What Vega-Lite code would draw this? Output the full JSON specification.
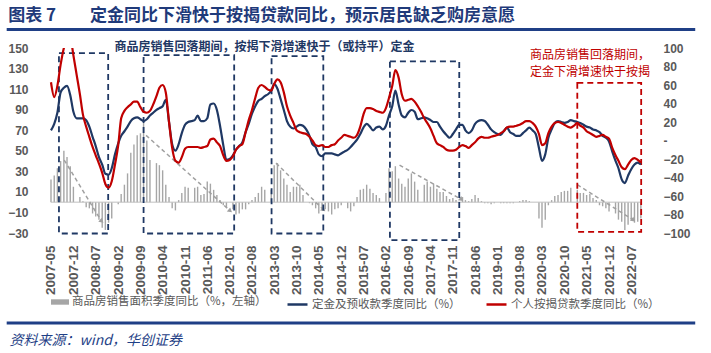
{
  "$schema": "https://vega.github.io/schema/vega-lite/v6.json",
  "width": 607,
  "height": 185,
  "autosize": {"type": "pad"},
  "padding": {"left": 5, "top": 6, "right": 5, "bottom": 4},
  "background": "white",
  "config": {
    "view": {"stroke": null},
    "font": "Noto Sans CJK SC",
    "axis": {"labelFont": "Liberation Sans", "labelFontWeight": "bold", "labelColor": "#595959"}
  },
  "title": {"text": "图表 7\u3000\u3000定金同比下滑快于按揭贷款同比，预示居民缺乏购房意愿", "anchor": "start", "frame": "bounds", "dx": 3, "offset": 3, "font": "Noto Sans CJK SC", "fontSize": 17, "fontWeight": "bold", "color": "#1f3a7a"},
  "datasets": {
    "main": [
      {"d":"2007-05-01","a":22,"p":11,"m":63},{"d":"2007-06-01","a":26,"p":18,"m":47},{"d":"2007-07-01","a":33,"p":30,"m":59},{"d":"2007-08-01","a":40,"p":52,"m":82},{"d":"2007-09-01","a":50,"p":57,"m":100},{"d":"2007-10-01","a":44,"p":59,"m":110},{"d":"2007-11-01","a":35,"p":49,"m":111},{"d":"2007-12-01","a":15,"p":31,"m":92},
      {"d":"2008-01-01","a":null,"p":24,"m":71},{"d":"2008-02-01","a":5,"p":24,"m":50},{"d":"2008-03-01","a":1,"p":24,"m":28},{"d":"2008-04-01","a":-5,"p":22,"m":15},{"d":"2008-05-01","a":-6,"p":15,"m":4},{"d":"2008-06-01","a":-11,"p":4,"m":-7},{"d":"2008-07-01","a":-14,"p":-6,"m":-16},{"d":"2008-08-01","a":-17,"p":-18,"m":-25},{"d":"2008-09-01","a":-25,"p":-26,"m":-35},{"d":"2008-10-01","a":-27,"p":-36,"m":-47},{"d":"2008-11-01","a":-20,"p":-37,"m":-51},{"d":"2008-12-01","a":-16,"p":-30,"m":-44},
      {"d":"2009-01-01","a":null,"p":-15,"m":-26},{"d":"2009-02-01","a":-2,"p":-3,"m":-5},{"d":"2009-03-01","a":8,"p":5,"m":24},{"d":"2009-04-01","a":17,"p":10,"m":32},{"d":"2009-05-01","a":28,"p":15,"m":36},{"d":"2009-06-01","a":48,"p":21,"m":39},{"d":"2009-07-01","a":56,"p":24,"m":42},{"d":"2009-08-01","a":65,"p":25,"m":42},{"d":"2009-09-01","a":67,"p":23,"m":36},{"d":"2009-10-01","a":77,"p":21,"m":31},{"d":"2009-11-01","a":60,"p":23,"m":30},{"d":"2009-12-01","a":41,"p":27,"m":32},
      {"d":"2010-01-01","a":null,"p":30,"m":39},{"d":"2010-02-01","a":38,"p":33,"m":48},{"d":"2010-03-01","a":36,"p":35,"m":57},{"d":"2010-04-01","a":31,"p":37,"m":60},{"d":"2010-05-01","a":17,"p":44,"m":52},{"d":"2010-06-01","a":5,"p":20,"m":20},{"d":"2010-07-01","a":-6,"p":-4,"m":-8},{"d":"2010-08-01","a":-8,"p":-11,"m":-22},{"d":"2010-09-01","a":2,"p":-4,"m":-24},{"d":"2010-10-01","a":9,"p":8,"m":-18},{"d":"2010-11-01","a":15,"p":17,"m":-9},{"d":"2010-12-01","a":14,"p":20,"m":-7},
      {"d":"2011-01-01","a":null,"p":21,"m":-7},{"d":"2011-02-01","a":14,"p":22,"m":-7},{"d":"2011-03-01","a":15,"p":27,"m":-7},{"d":"2011-04-01","a":7,"p":21,"m":-8},{"d":"2011-05-01","a":8,"p":21,"m":-7},{"d":"2011-06-01","a":20,"p":24,"m":-6},{"d":"2011-07-01","a":18,"p":39,"m":1},{"d":"2011-08-01","a":12,"p":40,"m":2},{"d":"2011-09-01","a":7,"p":33,"m":-2},{"d":"2011-10-01","a":2,"p":16,"m":-6},{"d":"2011-11-01","a":-3,"p":-5,"m":-16},{"d":"2011-12-01","a":-5,"p":-21,"m":-22},
      {"d":"2012-01-01","a":null,"p":-20,"m":-21},{"d":"2012-02-01","a":-7,"p":-16,"m":-17},{"d":"2012-03-01","a":-12,"p":-10,"m":-10},{"d":"2012-04-01","a":-11,"p":-6,"m":-6},{"d":"2012-05-01","a":-7,"p":-2,"m":-4},{"d":"2012-06-01","a":-7,"p":9,"m":9},{"d":"2012-07-01","a":-2,"p":18,"m":22},{"d":"2012-08-01","a":2,"p":29,"m":33},{"d":"2012-09-01","a":5,"p":37,"m":46},{"d":"2012-10-01","a":9,"p":43,"m":57},{"d":"2012-11-01","a":15,"p":45,"m":60},{"d":"2012-12-01","a":12,"p":48,"m":58},
      {"d":"2013-01-01","a":null,"p":50,"m":55},{"d":"2013-02-01","a":12,"p":54,"m":54},{"d":"2013-03-01","a":36,"p":61,"m":61},{"d":"2013-04-01","a":38,"p":56,"m":66},{"d":"2013-05-01","a":31,"p":45,"m":63},{"d":"2013-06-01","a":23,"p":33,"m":52},{"d":"2013-07-01","a":17,"p":21,"m":37},{"d":"2013-08-01","a":10,"p":15,"m":27},{"d":"2013-09-01","a":15,"p":13,"m":19},{"d":"2013-10-01","a":15,"p":15,"m":11},{"d":"2013-11-01","a":17,"p":17,"m":9},{"d":"2013-12-01","a":7,"p":16,"m":8},
      {"d":"2014-01-01","a":null,"p":12,"m":7},{"d":"2014-02-01","a":-1,"p":5,"m":4},{"d":"2014-03-01","a":-3,"p":-4,"m":0},{"d":"2014-04-01","a":-6,"p":-7,"m":-5},{"d":"2014-05-01","a":-11,"p":-15,"m":-6},{"d":"2014-06-01","a":-7,"p":-17,"m":-5},{"d":"2014-07-01","a":-7,"p":-14,"m":-7},{"d":"2014-08-01","a":-9,"p":-14,"m":-7},{"d":"2014-09-01","a":-12,"p":-14,"m":-5},{"d":"2014-10-01","a":-7,"p":-15,"m":-4},{"d":"2014-11-01","a":-6,"p":-16,"m":0},{"d":"2014-12-01","a":-3,"p":-14,"m":3},
      {"d":"2015-01-01","a":null,"p":-12,"m":6},{"d":"2015-02-01","a":-6,"p":-10,"m":5},{"d":"2015-03-01","a":-9,"p":-7,"m":4},{"d":"2015-04-01","a":-4,"p":-3,"m":3},{"d":"2015-05-01","a":5,"p":1,"m":6},{"d":"2015-06-01","a":12,"p":7,"m":15},{"d":"2015-07-01","a":13,"p":14,"m":28},{"d":"2015-08-01","a":17,"p":18,"m":35},{"d":"2015-09-01","a":13,"p":15,"m":35},{"d":"2015-10-01","a":9,"p":11,"m":34},{"d":"2015-11-01","a":7,"p":14,"m":32},{"d":"2015-12-01","a":4,"p":15,"m":31},
      {"d":"2016-01-01","a":null,"p":12,"m":30},{"d":"2016-02-01","a":9,"p":16,"m":35},{"d":"2016-03-01","a":33,"p":27,"m":46},{"d":"2016-04-01","a":30,"p":37,"m":59},{"d":"2016-05-01","a":35,"p":54,"m":76},{"d":"2016-06-01","a":23,"p":39,"m":68},{"d":"2016-07-01","a":18,"p":27,"m":50},{"d":"2016-08-01","a":15,"p":25,"m":43},{"d":"2016-09-01","a":23,"p":30,"m":44},{"d":"2016-10-01","a":28,"p":33,"m":45},{"d":"2016-11-01","a":20,"p":31,"m":42},{"d":"2016-12-01","a":12,"p":23,"m":37},
      {"d":"2017-01-01","a":null,"p":24,"m":31},{"d":"2017-02-01","a":17,"p":25,"m":24},{"d":"2017-03-01","a":20,"p":24,"m":19},{"d":"2017-04-01","a":15,"p":22,"m":13},{"d":"2017-05-01","a":18,"p":20,"m":5},{"d":"2017-06-01","a":13,"p":20,"m":-3},{"d":"2017-07-01","a":10,"p":15,"m":-5},{"d":"2017-08-01","a":10,"p":10,"m":-7},{"d":"2017-09-01","a":6,"p":6,"m":-10},{"d":"2017-10-01","a":3,"p":3,"m":-11},{"d":"2017-11-01","a":4,"p":7,"m":-11},{"d":"2017-12-01","a":2,"p":12,"m":-10},
      {"d":"2018-01-01","a":null,"p":17,"m":-7},{"d":"2018-02-01","a":5,"p":17,"m":-5},{"d":"2018-03-01","a":2,"p":11,"m":-6},{"d":"2018-04-01","a":1,"p":8,"m":-8},{"d":"2018-05-01","a":3,"p":11,"m":-5},{"d":"2018-06-01","a":7,"p":18,"m":-2},{"d":"2018-07-01","a":4,"p":21,"m":2},{"d":"2018-08-01","a":1,"p":22,"m":4},{"d":"2018-09-01","a":-1,"p":21,"m":3},{"d":"2018-10-01","a":-1,"p":17,"m":3},{"d":"2018-11-01","a":-2,"p":12,"m":4},{"d":"2018-12-01","a":-1,"p":9,"m":5},
      {"d":"2019-01-01","a":null,"p":7,"m":6},{"d":"2019-02-01","a":-1,"p":6,"m":8},{"d":"2019-03-01","a":-1,"p":10,"m":10},{"d":"2019-04-01","a":-1,"p":14,"m":14},{"d":"2019-05-01","a":-1,"p":9,"m":15},{"d":"2019-06-01","a":-1,"p":7,"m":15},{"d":"2019-07-01","a":0,"p":5,"m":16},{"d":"2019-08-01","a":1,"p":5,"m":17},{"d":"2019-09-01","a":2,"p":8,"m":19},{"d":"2019-10-01","a":2,"p":11,"m":21},{"d":"2019-11-01","a":1,"p":14,"m":21},{"d":"2019-12-01","a":0,"p":11,"m":19},
      {"d":"2020-01-01","a":null,"p":7,"m":15},{"d":"2020-02-01","a":-16,"p":-8,"m":7},{"d":"2020-03-01","a":-25,"p":-22,"m":-5},{"d":"2020-04-01","a":-17,"p":-15,"m":-3},{"d":"2020-05-01","a":-3,"p":3,"m":8},{"d":"2020-06-01","a":2,"p":12,"m":15},{"d":"2020-07-01","a":6,"p":19,"m":19},{"d":"2020-08-01","a":7,"p":21,"m":20},{"d":"2020-09-01","a":10,"p":20,"m":19},{"d":"2020-10-01","a":11,"p":19,"m":17},{"d":"2020-11-01","a":11,"p":20,"m":15},{"d":"2020-12-01","a":14,"p":22,"m":14},
      {"d":"2021-01-01","a":null,"p":21,"m":16},{"d":"2021-02-01","a":12,"p":20,"m":19},{"d":"2021-03-01","a":9,"p":19,"m":16},{"d":"2021-04-01","a":9,"p":17,"m":14},{"d":"2021-05-01","a":7,"p":15,"m":10},{"d":"2021-06-01","a":8,"p":14,"m":8},{"d":"2021-07-01","a":4,"p":12,"m":6},{"d":"2021-08-01","a":2,"p":11,"m":4},{"d":"2021-09-01","a":-3,"p":9,"m":5},{"d":"2021-10-01","a":-4,"p":5,"m":6},{"d":"2021-11-01","a":-6,"p":3,"m":4},{"d":"2021-12-01","a":-9,"p":-1,"m":2},
      {"d":"2022-01-01","a":null,"p":-12,"m":-8},{"d":"2022-02-01","a":-11,"p":-22,"m":-16},{"d":"2022-03-01","a":-17,"p":-30,"m":-22},{"d":"2022-04-01","a":-19,"p":-42,"m":-29},{"d":"2022-05-01","a":-27,"p":-46,"m":-31},{"d":"2022-06-01","a":-22,"p":-38,"m":-26},{"d":"2022-07-01","a":-17,"p":-31,"m":-21},{"d":"2022-08-01","a":-20,"p":-26,"m":-19},{"d":"2022-09-01","a":-19,"p":-24,"m":-21},{"d":"2022-10-01","a":-16,"p":-26,"m":-24}
    ],
    "boxes": [
      {"a":"2007-07-16","b":"2008-10-28","top":145,"bot":-30.5,"k":"b"},
      {"a":"2009-10-01","b":"2012-02-13","top":143,"bot":-30.5,"k":"b"},
      {"a":"2013-02-04","b":"2014-06-13","top":142,"bot":-30.5,"k":"b"},
      {"a":"2016-03-10","b":"2018-01-01","top":137,"bot":-37,"k":"b"},
      {"a":"2021-02-01","b":"2022-10-04","top":116,"bot":-29,"k":"r"}
    ],
    "trends": [
      {"id":1,"d":"2007-09-04","v":41,"e":0},{"id":1,"d":"2008-08-22","v":-18,"e":1},
      {"id":2,"d":"2009-10-25","v":65,"e":0},{"id":2,"d":"2012-01-01","v":-8,"e":1},
      {"id":3,"d":"2013-03-19","v":38,"e":0},{"id":3,"d":"2014-06-10","v":-7,"e":1},
      {"id":4,"d":"2016-06-10","v":36,"e":0},{"id":4,"d":"2018-01-16","v":3,"e":1},
      {"id":5,"d":"2021-02-01","v":17,"e":0},{"id":5,"d":"2022-07-16","v":-17,"e":1}
    ],
    "notes": [
      {"d":"2012-11-28","v":151,"t":"商品房销售回落期间，按揭下滑增速快于（或持平）定金","k":"b"},
      {"d":"2019-11-07","v":143,"t":"商品房销售回落期间，","k":"r"},
      {"d":"2019-11-07","v":127,"t":"定金下滑增速快于按揭","k":"r"}
    ],
    "deco": [
      {"x1":"2006-03-04","x2":"2024-03-03","y":168},
      {"x1":"2006-03-04","x2":"2024-03-03","y":-117.6}
    ],
    "source": [
      {"d":"2006-04-01","v":-134.6,"t":"资料来源：wind，华创证券"}
    ]
  },
  "layer": [
    {
      "layer": [
        {
          "data": {"name": "main"},
          "mark": {"type": "bar", "size": 1.4},
          "encoding": {
            "x": {"field": "d", "type": "temporal", "title": null, "scale": {"type": "utc", "domain": [{"year":2007,"month":4,"date":12,"utc":true},{"year":2022,"month":11,"date":19,"utc":true}]},
              "axis": {"orient":"bottom","title":null,"format":"%Y-%m","labelOverlap":false,"labelFlush":false,"labelAngle":-90,"labelFontSize":13.5,"labelPadding":12,"domain":false,"ticks":false,"grid":false,"values":[{"year":2007,"month":5,"date":1,"utc":true},{"year":2007,"month":12,"date":1,"utc":true},{"year":2008,"month":7,"date":1,"utc":true},{"year":2009,"month":2,"date":1,"utc":true},{"year":2009,"month":9,"date":1,"utc":true},{"year":2010,"month":4,"date":1,"utc":true},{"year":2010,"month":11,"date":1,"utc":true},{"year":2011,"month":6,"date":1,"utc":true},{"year":2012,"month":1,"date":1,"utc":true},{"year":2012,"month":8,"date":1,"utc":true},{"year":2013,"month":3,"date":1,"utc":true},{"year":2013,"month":10,"date":1,"utc":true},{"year":2014,"month":5,"date":1,"utc":true},{"year":2014,"month":12,"date":1,"utc":true},{"year":2015,"month":7,"date":1,"utc":true},{"year":2016,"month":2,"date":1,"utc":true},{"year":2016,"month":9,"date":1,"utc":true},{"year":2017,"month":4,"date":1,"utc":true},{"year":2017,"month":11,"date":1,"utc":true},{"year":2018,"month":6,"date":1,"utc":true},{"year":2019,"month":1,"date":1,"utc":true},{"year":2019,"month":8,"date":1,"utc":true},{"year":2020,"month":3,"date":1,"utc":true},{"year":2020,"month":10,"date":1,"utc":true},{"year":2021,"month":5,"date":1,"utc":true},{"year":2021,"month":12,"date":1,"utc":true},{"year":2022,"month":7,"date":1,"utc":true}]}},
            "y": {"field": "a", "type": "quantitative", "title": null, "scale": {"domain": [-30, 150], "nice": false, "zero": false},
              "axis": {"orient":"left","title":null,"labelOverlap":false,"labelFlush":false,"labelFontSize":12,"labelPadding":16,"domain":false,"ticks":false,"grid":false,"values":[-30,-10,10,30,50,70,90,110,130,150]}},
            "fill": {"datum": "商品房销售面积季度同比（%，左轴）", "type": "nominal", "scale": {"range": ["#a6a6a6"]},
              "legend": {"orient": "none", "legendX": 7, "legendY": 245, "title": null, "symbolType": "M-1,-0.3H1V0.3H-1Z", "symbolSize": 324, "symbolStrokeWidth": 0, "labelFont": "Noto Sans CJK SC", "labelFontSize": 11.5, "labelColor": "#595959", "labelOffset": 3, "labelLimit": 400}}
          }
        },
        {
          "data": {"name": "main"},
          "mark": {"type": "rule", "color": "#bfbfbf", "strokeWidth": 1},
          "encoding": {
            "x": {"field": "d", "type": "temporal", "title": null, "aggregate": "min",
              "axis": {"orient":"bottom","title":null,"format":"%Y-%m","labelOverlap":false,"labelFlush":false,"labelAngle":-90,"labelFontSize":13.5,"labelPadding":12,"domain":false,"ticks":false,"grid":false,"values":[{"year":2007,"month":5,"date":1,"utc":true},{"year":2007,"month":12,"date":1,"utc":true},{"year":2008,"month":7,"date":1,"utc":true},{"year":2009,"month":2,"date":1,"utc":true},{"year":2009,"month":9,"date":1,"utc":true},{"year":2010,"month":4,"date":1,"utc":true},{"year":2010,"month":11,"date":1,"utc":true},{"year":2011,"month":6,"date":1,"utc":true},{"year":2012,"month":1,"date":1,"utc":true},{"year":2012,"month":8,"date":1,"utc":true},{"year":2013,"month":3,"date":1,"utc":true},{"year":2013,"month":10,"date":1,"utc":true},{"year":2014,"month":5,"date":1,"utc":true},{"year":2014,"month":12,"date":1,"utc":true},{"year":2015,"month":7,"date":1,"utc":true},{"year":2016,"month":2,"date":1,"utc":true},{"year":2016,"month":9,"date":1,"utc":true},{"year":2017,"month":4,"date":1,"utc":true},{"year":2017,"month":11,"date":1,"utc":true},{"year":2018,"month":6,"date":1,"utc":true},{"year":2019,"month":1,"date":1,"utc":true},{"year":2019,"month":8,"date":1,"utc":true},{"year":2020,"month":3,"date":1,"utc":true},{"year":2020,"month":10,"date":1,"utc":true},{"year":2021,"month":5,"date":1,"utc":true},{"year":2021,"month":12,"date":1,"utc":true},{"year":2022,"month":7,"date":1,"utc":true}]}},
            "x2": {"field": "d", "aggregate": "max"},
            "y": {"datum": 0, "type": "quantitative", "title": null,
              "axis": {"orient":"left","title":null,"labelOverlap":false,"labelFlush":false,"labelFontSize":12,"labelPadding":16,"domain":false,"ticks":false,"grid":false,"values":[-30,-10,10,30,50,70,90,110,130,150]}}
          }
        },
        {
          "data": {"name": "trends"},
          "mark": {"type": "line", "color": "#a0a0a0", "strokeWidth": 1.5, "strokeDash": [4, 3]},
          "encoding": {
            "x": {"field": "d", "type": "temporal", "title": null,
              "axis": {"orient":"bottom","title":null,"format":"%Y-%m","labelOverlap":false,"labelFlush":false,"labelAngle":-90,"labelFontSize":13.5,"labelPadding":12,"domain":false,"ticks":false,"grid":false,"values":[{"year":2007,"month":5,"date":1,"utc":true},{"year":2007,"month":12,"date":1,"utc":true},{"year":2008,"month":7,"date":1,"utc":true},{"year":2009,"month":2,"date":1,"utc":true},{"year":2009,"month":9,"date":1,"utc":true},{"year":2010,"month":4,"date":1,"utc":true},{"year":2010,"month":11,"date":1,"utc":true},{"year":2011,"month":6,"date":1,"utc":true},{"year":2012,"month":1,"date":1,"utc":true},{"year":2012,"month":8,"date":1,"utc":true},{"year":2013,"month":3,"date":1,"utc":true},{"year":2013,"month":10,"date":1,"utc":true},{"year":2014,"month":5,"date":1,"utc":true},{"year":2014,"month":12,"date":1,"utc":true},{"year":2015,"month":7,"date":1,"utc":true},{"year":2016,"month":2,"date":1,"utc":true},{"year":2016,"month":9,"date":1,"utc":true},{"year":2017,"month":4,"date":1,"utc":true},{"year":2017,"month":11,"date":1,"utc":true},{"year":2018,"month":6,"date":1,"utc":true},{"year":2019,"month":1,"date":1,"utc":true},{"year":2019,"month":8,"date":1,"utc":true},{"year":2020,"month":3,"date":1,"utc":true},{"year":2020,"month":10,"date":1,"utc":true},{"year":2021,"month":5,"date":1,"utc":true},{"year":2021,"month":12,"date":1,"utc":true},{"year":2022,"month":7,"date":1,"utc":true}]}},
            "y": {"field": "v", "type": "quantitative", "title": null,
              "axis": {"orient":"left","title":null,"labelOverlap":false,"labelFlush":false,"labelFontSize":12,"labelPadding":16,"domain":false,"ticks":false,"grid":false,"values":[-30,-10,10,30,50,70,90,110,130,150]}},
            "detail": {"field": "id", "type": "nominal"}
          }
        },
        {
          "data": {"name": "trends"},
          "transform": [{"filter": "datum.e == 1"}],
          "mark": {"type": "point", "shape": "triangle", "angle": 130, "size": 28, "filled": true, "color": "#a0a0a0", "opacity": 1},
          "encoding": {
            "x": {"field": "d", "type": "temporal", "title": null,
              "axis": {"orient":"bottom","title":null,"format":"%Y-%m","labelOverlap":false,"labelFlush":false,"labelAngle":-90,"labelFontSize":13.5,"labelPadding":12,"domain":false,"ticks":false,"grid":false,"values":[{"year":2007,"month":5,"date":1,"utc":true},{"year":2007,"month":12,"date":1,"utc":true},{"year":2008,"month":7,"date":1,"utc":true},{"year":2009,"month":2,"date":1,"utc":true},{"year":2009,"month":9,"date":1,"utc":true},{"year":2010,"month":4,"date":1,"utc":true},{"year":2010,"month":11,"date":1,"utc":true},{"year":2011,"month":6,"date":1,"utc":true},{"year":2012,"month":1,"date":1,"utc":true},{"year":2012,"month":8,"date":1,"utc":true},{"year":2013,"month":3,"date":1,"utc":true},{"year":2013,"month":10,"date":1,"utc":true},{"year":2014,"month":5,"date":1,"utc":true},{"year":2014,"month":12,"date":1,"utc":true},{"year":2015,"month":7,"date":1,"utc":true},{"year":2016,"month":2,"date":1,"utc":true},{"year":2016,"month":9,"date":1,"utc":true},{"year":2017,"month":4,"date":1,"utc":true},{"year":2017,"month":11,"date":1,"utc":true},{"year":2018,"month":6,"date":1,"utc":true},{"year":2019,"month":1,"date":1,"utc":true},{"year":2019,"month":8,"date":1,"utc":true},{"year":2020,"month":3,"date":1,"utc":true},{"year":2020,"month":10,"date":1,"utc":true},{"year":2021,"month":5,"date":1,"utc":true},{"year":2021,"month":12,"date":1,"utc":true},{"year":2022,"month":7,"date":1,"utc":true}]}},
            "y": {"field": "v", "type": "quantitative", "title": null,
              "axis": {"orient":"left","title":null,"labelOverlap":false,"labelFlush":false,"labelFontSize":12,"labelPadding":16,"domain":false,"ticks":false,"grid":false,"values":[-30,-10,10,30,50,70,90,110,130,150]}}
          }
        },
        {
          "data": {"name": "boxes"},
          "mark": {"type": "rect", "filled": false, "strokeWidth": 1.8, "strokeDash": [6, 4]},
          "encoding": {
            "x": {"field": "a", "type": "temporal", "title": null,
              "axis": {"orient":"bottom","title":null,"format":"%Y-%m","labelOverlap":false,"labelFlush":false,"labelAngle":-90,"labelFontSize":13.5,"labelPadding":12,"domain":false,"ticks":false,"grid":false,"values":[{"year":2007,"month":5,"date":1,"utc":true},{"year":2007,"month":12,"date":1,"utc":true},{"year":2008,"month":7,"date":1,"utc":true},{"year":2009,"month":2,"date":1,"utc":true},{"year":2009,"month":9,"date":1,"utc":true},{"year":2010,"month":4,"date":1,"utc":true},{"year":2010,"month":11,"date":1,"utc":true},{"year":2011,"month":6,"date":1,"utc":true},{"year":2012,"month":1,"date":1,"utc":true},{"year":2012,"month":8,"date":1,"utc":true},{"year":2013,"month":3,"date":1,"utc":true},{"year":2013,"month":10,"date":1,"utc":true},{"year":2014,"month":5,"date":1,"utc":true},{"year":2014,"month":12,"date":1,"utc":true},{"year":2015,"month":7,"date":1,"utc":true},{"year":2016,"month":2,"date":1,"utc":true},{"year":2016,"month":9,"date":1,"utc":true},{"year":2017,"month":4,"date":1,"utc":true},{"year":2017,"month":11,"date":1,"utc":true},{"year":2018,"month":6,"date":1,"utc":true},{"year":2019,"month":1,"date":1,"utc":true},{"year":2019,"month":8,"date":1,"utc":true},{"year":2020,"month":3,"date":1,"utc":true},{"year":2020,"month":10,"date":1,"utc":true},{"year":2021,"month":5,"date":1,"utc":true},{"year":2021,"month":12,"date":1,"utc":true},{"year":2022,"month":7,"date":1,"utc":true}]}},
            "x2": {"field": "b"},
            "y": {"field": "top", "type": "quantitative", "title": null,
              "axis": {"orient":"left","title":null,"labelOverlap":false,"labelFlush":false,"labelFontSize":12,"labelPadding":16,"domain":false,"ticks":false,"grid":false,"values":[-30,-10,10,30,50,70,90,110,130,150]}},
            "y2": {"field": "bot"},
            "color": {"field": "k", "type": "nominal", "scale": {"domain": ["b", "r"], "range": ["#1f3864", "#c00000"]}, "legend": null}
          }
        },
        {
          "data": {"name": "notes"},
          "transform": [{"filter": "datum.k == 'b'"}],
          "mark": {"type": "text", "align": "center", "baseline": "middle", "font": "Noto Sans CJK SC", "fontSize": 12, "fontWeight": "bold", "color": "#1f3864"},
          "encoding": {
            "x": {"field": "d", "type": "temporal", "title": null,
              "axis": {"orient":"bottom","title":null,"format":"%Y-%m","labelOverlap":false,"labelFlush":false,"labelAngle":-90,"labelFontSize":13.5,"labelPadding":12,"domain":false,"ticks":false,"grid":false,"values":[{"year":2007,"month":5,"date":1,"utc":true},{"year":2007,"month":12,"date":1,"utc":true},{"year":2008,"month":7,"date":1,"utc":true},{"year":2009,"month":2,"date":1,"utc":true},{"year":2009,"month":9,"date":1,"utc":true},{"year":2010,"month":4,"date":1,"utc":true},{"year":2010,"month":11,"date":1,"utc":true},{"year":2011,"month":6,"date":1,"utc":true},{"year":2012,"month":1,"date":1,"utc":true},{"year":2012,"month":8,"date":1,"utc":true},{"year":2013,"month":3,"date":1,"utc":true},{"year":2013,"month":10,"date":1,"utc":true},{"year":2014,"month":5,"date":1,"utc":true},{"year":2014,"month":12,"date":1,"utc":true},{"year":2015,"month":7,"date":1,"utc":true},{"year":2016,"month":2,"date":1,"utc":true},{"year":2016,"month":9,"date":1,"utc":true},{"year":2017,"month":4,"date":1,"utc":true},{"year":2017,"month":11,"date":1,"utc":true},{"year":2018,"month":6,"date":1,"utc":true},{"year":2019,"month":1,"date":1,"utc":true},{"year":2019,"month":8,"date":1,"utc":true},{"year":2020,"month":3,"date":1,"utc":true},{"year":2020,"month":10,"date":1,"utc":true},{"year":2021,"month":5,"date":1,"utc":true},{"year":2021,"month":12,"date":1,"utc":true},{"year":2022,"month":7,"date":1,"utc":true}]}},
            "y": {"field": "v", "type": "quantitative", "title": null,
              "axis": {"orient":"left","title":null,"labelOverlap":false,"labelFlush":false,"labelFontSize":12,"labelPadding":16,"domain":false,"ticks":false,"grid":false,"values":[-30,-10,10,30,50,70,90,110,130,150]}},
            "text": {"field": "t"}
          }
        },
        {
          "data": {"name": "notes"},
          "transform": [{"filter": "datum.k == 'r'"}],
          "mark": {"type": "text", "align": "left", "baseline": "middle", "font": "Noto Sans CJK SC", "fontSize": 12, "fontWeight": "normal", "color": "#c00000"},
          "encoding": {
            "x": {"field": "d", "type": "temporal", "title": null,
              "axis": {"orient":"bottom","title":null,"format":"%Y-%m","labelOverlap":false,"labelFlush":false,"labelAngle":-90,"labelFontSize":13.5,"labelPadding":12,"domain":false,"ticks":false,"grid":false,"values":[{"year":2007,"month":5,"date":1,"utc":true},{"year":2007,"month":12,"date":1,"utc":true},{"year":2008,"month":7,"date":1,"utc":true},{"year":2009,"month":2,"date":1,"utc":true},{"year":2009,"month":9,"date":1,"utc":true},{"year":2010,"month":4,"date":1,"utc":true},{"year":2010,"month":11,"date":1,"utc":true},{"year":2011,"month":6,"date":1,"utc":true},{"year":2012,"month":1,"date":1,"utc":true},{"year":2012,"month":8,"date":1,"utc":true},{"year":2013,"month":3,"date":1,"utc":true},{"year":2013,"month":10,"date":1,"utc":true},{"year":2014,"month":5,"date":1,"utc":true},{"year":2014,"month":12,"date":1,"utc":true},{"year":2015,"month":7,"date":1,"utc":true},{"year":2016,"month":2,"date":1,"utc":true},{"year":2016,"month":9,"date":1,"utc":true},{"year":2017,"month":4,"date":1,"utc":true},{"year":2017,"month":11,"date":1,"utc":true},{"year":2018,"month":6,"date":1,"utc":true},{"year":2019,"month":1,"date":1,"utc":true},{"year":2019,"month":8,"date":1,"utc":true},{"year":2020,"month":3,"date":1,"utc":true},{"year":2020,"month":10,"date":1,"utc":true},{"year":2021,"month":5,"date":1,"utc":true},{"year":2021,"month":12,"date":1,"utc":true},{"year":2022,"month":7,"date":1,"utc":true}]}},
            "y": {"field": "v", "type": "quantitative", "title": null,
              "axis": {"orient":"left","title":null,"labelOverlap":false,"labelFlush":false,"labelFontSize":12,"labelPadding":16,"domain":false,"ticks":false,"grid":false,"values":[-30,-10,10,30,50,70,90,110,130,150]}},
            "text": {"field": "t"}
          }
        },
        {
          "data": {"name": "deco"},
          "mark": {"type": "rule", "color": "#1f3f86", "strokeWidth": 3},
          "encoding": {
            "x": {"field": "x1", "type": "temporal", "title": null,
              "axis": {"orient":"bottom","title":null,"format":"%Y-%m","labelOverlap":false,"labelFlush":false,"labelAngle":-90,"labelFontSize":13.5,"labelPadding":12,"domain":false,"ticks":false,"grid":false,"values":[{"year":2007,"month":5,"date":1,"utc":true},{"year":2007,"month":12,"date":1,"utc":true},{"year":2008,"month":7,"date":1,"utc":true},{"year":2009,"month":2,"date":1,"utc":true},{"year":2009,"month":9,"date":1,"utc":true},{"year":2010,"month":4,"date":1,"utc":true},{"year":2010,"month":11,"date":1,"utc":true},{"year":2011,"month":6,"date":1,"utc":true},{"year":2012,"month":1,"date":1,"utc":true},{"year":2012,"month":8,"date":1,"utc":true},{"year":2013,"month":3,"date":1,"utc":true},{"year":2013,"month":10,"date":1,"utc":true},{"year":2014,"month":5,"date":1,"utc":true},{"year":2014,"month":12,"date":1,"utc":true},{"year":2015,"month":7,"date":1,"utc":true},{"year":2016,"month":2,"date":1,"utc":true},{"year":2016,"month":9,"date":1,"utc":true},{"year":2017,"month":4,"date":1,"utc":true},{"year":2017,"month":11,"date":1,"utc":true},{"year":2018,"month":6,"date":1,"utc":true},{"year":2019,"month":1,"date":1,"utc":true},{"year":2019,"month":8,"date":1,"utc":true},{"year":2020,"month":3,"date":1,"utc":true},{"year":2020,"month":10,"date":1,"utc":true},{"year":2021,"month":5,"date":1,"utc":true},{"year":2021,"month":12,"date":1,"utc":true},{"year":2022,"month":7,"date":1,"utc":true}]}},
            "x2": {"field": "x2"},
            "y": {"field": "y", "type": "quantitative", "title": null,
              "axis": {"orient":"left","title":null,"labelOverlap":false,"labelFlush":false,"labelFontSize":12,"labelPadding":16,"domain":false,"ticks":false,"grid":false,"values":[-30,-10,10,30,50,70,90,110,130,150]}}
          }
        },
        {
          "data": {"name": "source"},
          "mark": {"type": "text", "align": "left", "baseline": "middle", "font": "Noto Sans CJK SC", "fontSize": 14, "fontStyle": "italic", "color": "#1f3f86"},
          "encoding": {
            "x": {"field": "d", "type": "temporal", "title": null,
              "axis": {"orient":"bottom","title":null,"format":"%Y-%m","labelOverlap":false,"labelFlush":false,"labelAngle":-90,"labelFontSize":13.5,"labelPadding":12,"domain":false,"ticks":false,"grid":false,"values":[{"year":2007,"month":5,"date":1,"utc":true},{"year":2007,"month":12,"date":1,"utc":true},{"year":2008,"month":7,"date":1,"utc":true},{"year":2009,"month":2,"date":1,"utc":true},{"year":2009,"month":9,"date":1,"utc":true},{"year":2010,"month":4,"date":1,"utc":true},{"year":2010,"month":11,"date":1,"utc":true},{"year":2011,"month":6,"date":1,"utc":true},{"year":2012,"month":1,"date":1,"utc":true},{"year":2012,"month":8,"date":1,"utc":true},{"year":2013,"month":3,"date":1,"utc":true},{"year":2013,"month":10,"date":1,"utc":true},{"year":2014,"month":5,"date":1,"utc":true},{"year":2014,"month":12,"date":1,"utc":true},{"year":2015,"month":7,"date":1,"utc":true},{"year":2016,"month":2,"date":1,"utc":true},{"year":2016,"month":9,"date":1,"utc":true},{"year":2017,"month":4,"date":1,"utc":true},{"year":2017,"month":11,"date":1,"utc":true},{"year":2018,"month":6,"date":1,"utc":true},{"year":2019,"month":1,"date":1,"utc":true},{"year":2019,"month":8,"date":1,"utc":true},{"year":2020,"month":3,"date":1,"utc":true},{"year":2020,"month":10,"date":1,"utc":true},{"year":2021,"month":5,"date":1,"utc":true},{"year":2021,"month":12,"date":1,"utc":true},{"year":2022,"month":7,"date":1,"utc":true}]}},
            "y": {"field": "v", "type": "quantitative", "title": null,
              "axis": {"orient":"left","title":null,"labelOverlap":false,"labelFlush":false,"labelFontSize":12,"labelPadding":16,"domain":false,"ticks":false,"grid":false,"values":[-30,-10,10,30,50,70,90,110,130,150]}},
            "text": {"field": "t"}
          }
        }
      ]
    },
    {
      "data": {"name": "main"},
      "transform": [{"fold": ["p", "m"], "as": ["s", "v"]}],
      "mark": {"type": "line", "strokeWidth": 2.2, "interpolate": "monotone", "clip": true},
      "encoding": {
        "x": {"field": "d", "type": "temporal", "title": null,
          "axis": {"orient":"bottom","title":null,"format":"%Y-%m","labelOverlap":false,"labelFlush":false,"labelAngle":-90,"labelFontSize":13.5,"labelPadding":12,"domain":false,"ticks":false,"grid":false,"values":[{"year":2007,"month":5,"date":1,"utc":true},{"year":2007,"month":12,"date":1,"utc":true},{"year":2008,"month":7,"date":1,"utc":true},{"year":2009,"month":2,"date":1,"utc":true},{"year":2009,"month":9,"date":1,"utc":true},{"year":2010,"month":4,"date":1,"utc":true},{"year":2010,"month":11,"date":1,"utc":true},{"year":2011,"month":6,"date":1,"utc":true},{"year":2012,"month":1,"date":1,"utc":true},{"year":2012,"month":8,"date":1,"utc":true},{"year":2013,"month":3,"date":1,"utc":true},{"year":2013,"month":10,"date":1,"utc":true},{"year":2014,"month":5,"date":1,"utc":true},{"year":2014,"month":12,"date":1,"utc":true},{"year":2015,"month":7,"date":1,"utc":true},{"year":2016,"month":2,"date":1,"utc":true},{"year":2016,"month":9,"date":1,"utc":true},{"year":2017,"month":4,"date":1,"utc":true},{"year":2017,"month":11,"date":1,"utc":true},{"year":2018,"month":6,"date":1,"utc":true},{"year":2019,"month":1,"date":1,"utc":true},{"year":2019,"month":8,"date":1,"utc":true},{"year":2020,"month":3,"date":1,"utc":true},{"year":2020,"month":10,"date":1,"utc":true},{"year":2021,"month":5,"date":1,"utc":true},{"year":2021,"month":12,"date":1,"utc":true},{"year":2022,"month":7,"date":1,"utc":true}]}},
        "y": {"field": "v", "type": "quantitative", "title": null, "scale": {"domain": [-100, 100], "nice": false, "zero": false},
          "axis": {"orient": "right", "title": null, "labelOverlap": false, "labelFlush": false, "labelFontSize": 12, "labelPadding": 12, "domain": false, "ticks": false, "grid": false, "values": [-100,-80,-60,-40,-20,0,20,40,60,80,100], "labelExpr": "datum.value == 0 ? '-' : datum.label"}},
        "stroke": {"field": "s", "type": "nominal", "scale": {"domain": ["p", "m"], "range": ["#1f3864", "#c00000"]},
          "legend": {"orient": "none", "legendX": 242, "legendY": 245, "direction": "horizontal", "title": null, "symbolType": "stroke", "symbolSize": 400, "symbolStrokeWidth": 2.5, "labelExpr": "datum.value == 'p' ? '定金及预收款季度同比（%）' : '个人按揭贷款季度同比（%）'", "columnPadding": 20, "labelOffset": 3, "labelFont": "Noto Sans CJK SC", "labelFontSize": 11.5, "labelColor": "#595959", "labelLimit": 400}}
      }
    }
  ],
  "resolve": {"scale": {"y": "independent"}}
}
